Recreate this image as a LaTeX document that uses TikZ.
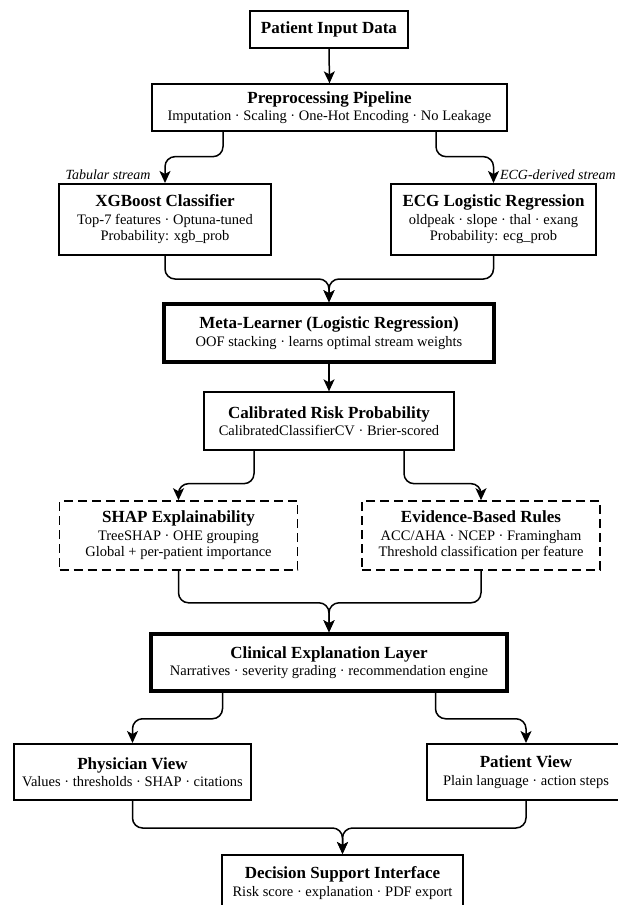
\documentclass[tikz,border=0pt]{standalone}
\usepackage{fontspec}
\setmainfont{Liberation Serif}
\usetikzlibrary{arrows.meta}
\newcommand{\ttl}[1]{{\fontsize{17}{19}\selectfont\bfseries #1}}
\tikzset{
  box/.style={draw,line width=1.3pt,align=center,inner sep=0pt,font=\fontsize{14.5}{16.5}\selectfont},
  midbox/.style={box,line width=2pt},
  heavybox/.style={box,line width=3.5pt},
  dashbox/.style={box,line width=1.6pt,dash pattern=on 9pt off 5pt},
  streamlbl/.style={font=\fontsize{14}{16}\selectfont\itshape},
  link/.style={line width=1.5pt,rounded corners=10pt,-{Stealth[length=12pt,width=11pt,inset=3pt]}},
}

\begin{document}
\begin{tikzpicture}[x=1pt,y=-1pt]
\useasboundingbox (0,0) rectangle (618,905);
\clip (0,0) rectangle (618,905);
\node[box,minimum width=158pt,minimum height=37pt] (input) at (329,29.5) {\ttl{Patient Input Data}};
\node[box,minimum width=355pt,minimum height=47pt] (prep) at (329.5,107.5) {\ttl{Preprocessing Pipeline}\\[1pt] Imputation · Scaling · One-Hot Encoding · No Leakage};
\node[midbox,minimum width=212pt,minimum height=71pt] (xgb) at (165,219.5) {\ttl{XGBoost Classifier}\\[1pt] Top-7 features · Optuna-tuned\\ Probability: xgb\_prob};
\node[midbox,minimum width=205pt,minimum height=71pt] (ecg) at (493.5,219.5) {\ttl{ECG Logistic Regression}\\[1pt] oldpeak · slope · thal · exang\\ Probability: ecg\_prob};
\node[heavybox,minimum width=330pt,minimum height=58pt] (meta) at (329,333) {\ttl{Meta-Learner (Logistic Regression)}\\[1pt] OOF stacking · learns optimal stream weights};
\node[box,minimum width=250pt,minimum height=58pt] (calib) at (329,421) {\ttl{Calibrated Risk Probability}\\[1pt] CalibratedClassifierCV · Brier-scored};
\node[dashbox,minimum width=238pt,minimum height=69pt] (shap) at (178.5,535.5) {\ttl{SHAP Explainability}\\[1pt] TreeSHAP · OHE grouping\\ Global + per-patient importance};
\node[dashbox,minimum width=238pt,minimum height=69pt] (rules) at (481,535.5) {\ttl{Evidence-Based Rules}\\[1pt] ACC/AHA · NCEP · Framingham\\ Threshold classification per feature};
\node[heavybox,minimum width=356pt,minimum height=57pt] (expl) at (329,662.5) {\ttl{Clinical Explanation Layer}\\[1pt] Narratives · severity grading · recommendation engine};
\node[midbox,minimum width=237pt,minimum height=56pt] (physician) at (132.5,772) {\ttl{Physician View}\\[1pt] Values · thresholds · SHAP · citations};
\node[midbox,minimum width=198pt,minimum height=56pt] (patient) at (526,772) {\ttl{Patient View}\\[1pt] Plain language · action steps};
\node[midbox,minimum width=241pt,minimum height=56pt] (decision) at (342.5,883) {\ttl{Decision Support Interface}\\[1pt] Risk score · explanation · PDF export};
% stream labels
\node[streamlbl,anchor=base east] (tablbl) at ([xshift=-11pt,yshift=4pt]xgb.north) {Tabular stream};
\node[streamlbl,anchor=base west] (ecglbl) at ([xshift=3pt,yshift=4pt]ecg.north) {ECG-derived stream};
% connectors
\draw[link] (input.south) -- (prep.north);
\draw[link] ([xshift=-106.5pt]prep.south) -- ++(0,25) -| (xgb.north);
\draw[link] ([xshift=106.5pt]prep.south) -- ++(0,25) -| (ecg.north);
\draw[link] (xgb.south) -- ++(0,23) -| (meta.north);
\draw[link] (ecg.south) -- ++(0,23) -| (meta.north);
\draw[link] (meta.south) -- (calib.north);
\draw[link] ([xshift=-75pt]calib.south) -- ++(0,33) -| (shap.north);
\draw[link] ([xshift=75pt]calib.south) -- ++(0,33) -| (rules.north);
\draw[link] (shap.south) -- ++(0,32) -| (expl.north);
\draw[link] (rules.south) -- ++(0,32) -| (expl.north);
\draw[link] ([xshift=-106.5pt]expl.south) -- ++(0,26) -| (physician.north);
\draw[link] ([xshift=106.5pt]expl.south) -- ++(0,26) -| (patient.north);
\draw[link] (physician.south) -- ++(0,27) -| (decision.north);
\draw[link] (patient.south) -- ++(0,27) -| (decision.north);
\end{tikzpicture}
\end{document}
